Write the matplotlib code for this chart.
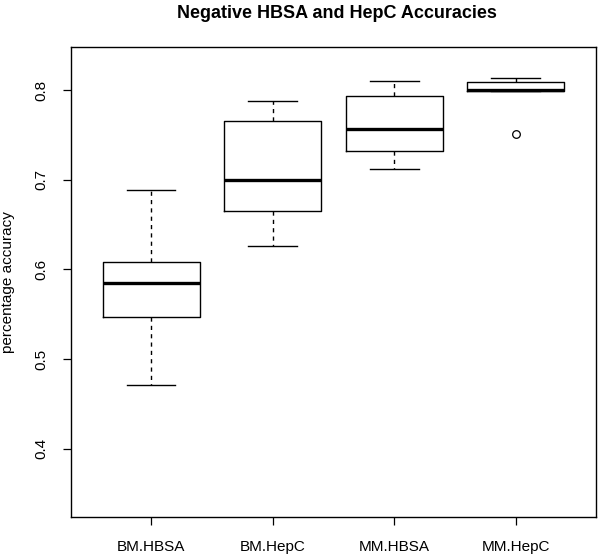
"""
boxplot of negative HBSA / HepC accuracies, R base-graphics look
"""
import matplotlib
matplotlib.use("Agg")
import matplotlib.pyplot as plt

plt.rcParams["font.family"] = ["Liberation Sans", "DejaVu Sans"]


################## data

labels = ["BM.HBSA", "BM.HepC", "MM.HBSA", "MM.HepC"]
whislo = [0.471, 0.626, 0.712, 0.799]
q1 = [0.547, 0.665, 0.732, 0.799]
med = [0.585, 0.700, 0.757, 0.800]
q3 = [0.608, 0.765, 0.793, 0.809]
whishi = [0.688, 0.788, 0.810, 0.813]
fliers = [[], [], [], [0.751]]

yticks = [0.4, 0.5, 0.6, 0.7, 0.8]


stats = [
    {"label": lab, "whislo": lo, "q1": a, "med": m, "q3": b, "whishi": hi, "fliers": fl}
    for lab, lo, a, m, b, hi, fl in zip(labels, whislo, q1, med, q3, whishi, fliers)
]


########### open plot

fig = plt.figure(figsize=(6, 5.56), dpi=100)
ax = fig.add_axes([0.1183, 0.0696, 0.875, 0.8464])

ax.bxp(stats, positions=[1, 2, 3, 4], widths=0.8,
       boxprops={"color": "black", "linewidth": 1.0},
       whiskerprops={"color": "black", "linewidth": 1.0, "linestyle": (0, (3, 3))},
       capprops={"color": "black", "linewidth": 1.0},
       medianprops={"color": "black", "linewidth": 2.4, "solid_capstyle": "butt"},
       flierprops={"marker": "o", "markerfacecolor": "none", "markeredgecolor": "black",
                   "markersize": 5.5, "markeredgewidth": 0.9},
       showfliers=True, capwidths=0.4)

ax.set_xlim(0.34, 4.66)
ax.set_ylim(0.3236, 0.8483)

ax.set_xticks([1, 2, 3, 4])
ax.set_xticklabels(labels, fontsize=11)
ax.set_yticks(yticks)
ax.set_yticklabels([f"{v:.1f}" for v in yticks], fontsize=11, rotation=90, va="center")
ax.tick_params(direction="out", length=6, width=0.9, pad=10, top=False, right=False)
ax.tick_params(axis="x", pad=10)

for sp in ax.spines.values():
    sp.set_linewidth(1.0)

ax.set_ylabel("percentage accuracy", fontsize=11, labelpad=14)
fig.text(337 / 600, 1 - 14 / 556, "Negative HBSA and HepC Accuracies",
         fontsize=13, fontweight="bold", ha="center", va="center")


############## export
fig.savefig("out.png", dpi=100)
plt.close(fig)
